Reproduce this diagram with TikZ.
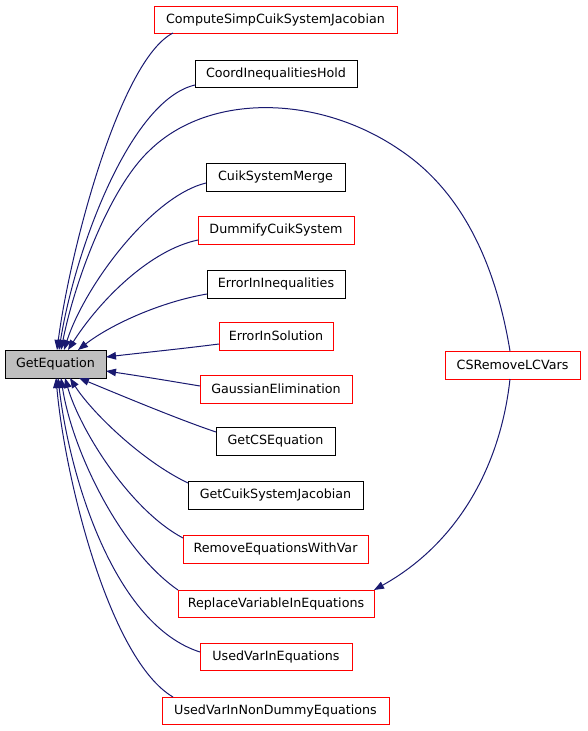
\documentclass[tikz,border=0pt]{standalone}
\usepackage{fontspec}
\setmainfont{DejaVu Sans}
\usetikzlibrary{arrows.meta}
\definecolor{edgeblue}{HTML}{191970}
\definecolor{boxred}{HTML}{FF0000}
\definecolor{boxgray}{HTML}{BFBFBF}
\begin{document}
\begin{tikzpicture}[x=1pt,y=-1pt,
  fn/.style={draw=black, line width=1pt, inner sep=0pt, outer sep=0pt,
    minimum height=28pt, font=\fontsize{12.7}{15}\selectfont, fill=white},
  redfn/.style={fn, draw=boxred},
  mainfn/.style={fn, fill=boxgray},
  call/.style={draw=edgeblue, line width=1pt,
    -{Triangle[length=10pt,width=7.5pt]}, color=edgeblue}]
\useasboundingbox (0,0) rectangle (587,731);

\node[mainfn, minimum width=101pt] (GE) at (55.5,364) {GetEquation};
\node[redfn, minimum width=243pt, minimum height=27pt] (CSJ) at (275.5,19.5) {ComputeSimpCuikSystemJacobian};
\node[fn, minimum width=162pt, minimum height=27pt] (CIH) at (276,73.5) {CoordInequalitiesHold};
\node[fn, minimum width=139pt] (CSM) at (275.5,177) {CuikSystemMerge};
\node[redfn, minimum width=156pt] (DCS) at (276,230) {DummifyCuikSystem};
\node[fn, minimum width=138pt] (EII) at (276,284) {ErrorInInequalities};
\node[redfn, minimum width=114pt] (EIS) at (276,336) {ErrorInSolution};
\node[redfn, minimum width=152pt] (GAU) at (276,389) {GaussianElimination};
\node[fn, minimum width=119pt] (GCS) at (275.5,441) {GetCSEquation};
\node[fn, minimum width=175pt] (GCJ) at (275.5,495) {GetCuikSystemJacobian};
\node[redfn, minimum width=185pt] (REV) at (275.5,549) {RemoveEquationsWithVar};
\node[redfn, minimum width=196pt, minimum height=27pt] (RVE) at (276,603.5) {ReplaceVariableInEquations};
\node[redfn, minimum width=152pt, minimum height=27pt] (UVE) at (276,656.5) {UsedVarInEquations};
\node[redfn, minimum width=227pt, minimum height=27pt] (UVN) at (275.5,710.5) {UsedVarInNonDummyEquations};
\node[redfn, minimum width=135pt] (CSR) at (512.5,365) {CSRemoveLCVars};

% callers above
\draw[call] ([xshift=19pt]CSJ.south west) .. controls (120,60) and (70,250) .. ([xshift=52pt]GE.north west);
\draw[call] ([yshift=2pt]CIH.south west) .. controls (130,100) and (75,250) .. ([xshift=54pt]GE.north west);
\draw[call] ([xshift=-2.5pt]CSR.north) .. controls (495,260) and (460,190) .. (400,150)
  .. controls (320,95) and (210,92) .. (150,150)
  .. controls (110,187) and (75,280) .. ([xshift=56pt]GE.north west);
\draw[call] ([yshift=-6pt]CSM.west) .. controls (152,196) and (85,285) .. ([xshift=59pt]GE.north west);
\draw[call] ([yshift=-10pt]DCS.west) .. controls (150,250) and (100,300) .. ([xshift=63pt]GE.north west);
\draw[call] ([yshift=-10pt]EII.west) .. controls (160,302) and (110,325) .. ([xshift=73pt]GE.north west);
\draw[call] ([yshift=-8pt]EIS.west) .. controls (180,349) and (140,353) .. ([yshift=7pt]GE.east);
% callers below
\draw[call] ([yshift=3pt]GAU.west) .. controls (170,381) and (140,376) .. ([yshift=-7pt]GE.east);
\draw[call] ([yshift=9pt]GCS.west) .. controls (180,420) and (120,395) .. ([xshift=74pt]GE.south west);
\draw[call] ([yshift=12pt]GCJ.west) .. controls (140,460) and (90,410) .. ([xshift=65pt]GE.south west);
\draw[call] ([yshift=-3pt]REV.north west) .. controls (130,510) and (80,430) .. ([xshift=60pt]GE.south west);
\draw[call] (RVE.north west) .. controls (120,550) and (72,450) .. ([xshift=56pt]GE.south west);
\draw[call] ([yshift=4.5pt]UVE.west) .. controls (115,625) and (70,480) .. ([xshift=53pt]GE.south west);
\draw[call] ([xshift=11pt]UVN.north west) .. controls (110,660) and (65,480) .. ([xshift=51pt]GE.south west);
% CSRemoveLCVars -> ReplaceVariableInEquations
\draw[call] ([xshift=-2.5pt]CSR.south) .. controls (500,470) and (455,545) .. (RVE.north east);
\end{tikzpicture}
\end{document}
